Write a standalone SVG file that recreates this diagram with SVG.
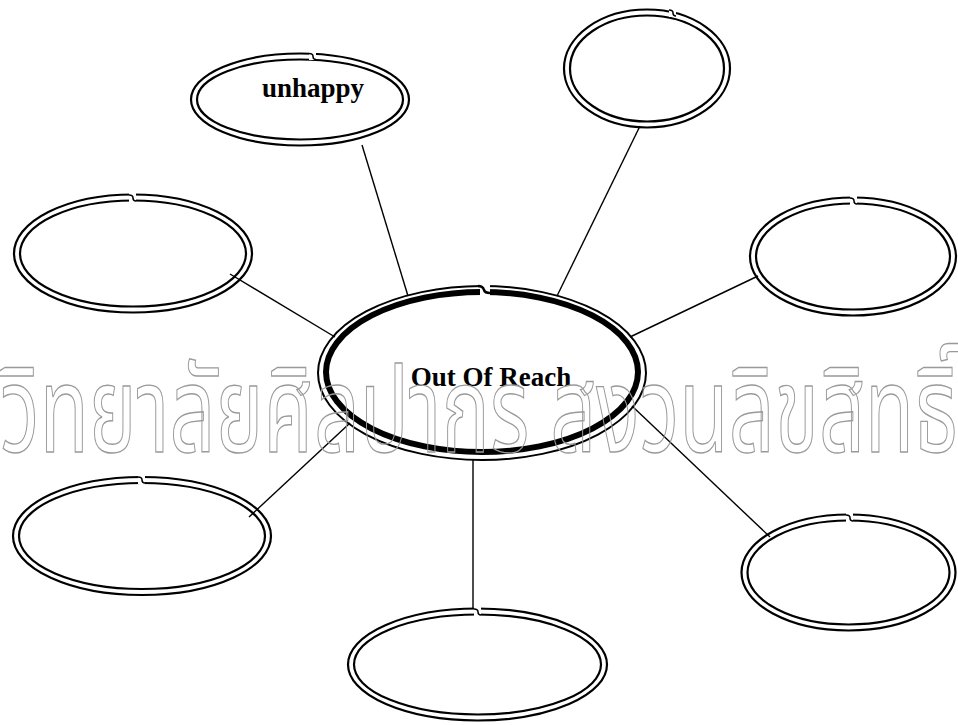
<svg xmlns="http://www.w3.org/2000/svg" width="958" height="725" viewBox="0 0 958 725">
<style>
.o{fill:#fff;stroke:#000;stroke-width:2.2}
.i{fill:none;stroke:#000;stroke-width:2.2}
.thin{fill:#fff;stroke:#000;stroke-width:2}
.thick{fill:none;stroke:#000;stroke-width:6}
.gap{fill:#fff;stroke:none}
.curl{fill:none;stroke:#000;stroke-width:1.5}
.lbl{font-family:"Liberation Serif","Times New Roman",serif;font-weight:bold;font-size:27px;fill:#000;text-anchor:middle}
.wm{font-family:"Noto Sans Thai","Noto Sans","DejaVu Sans",sans-serif;fill:none;stroke:#9a9a9a;stroke-width:1.4}
#connectors line{stroke:#000;stroke-width:1.4}
</style>
<rect width="958" height="725" fill="#fff"/>

<g id="n-unhappy">
<ellipse class="o" cx="300" cy="99.5" rx="109" ry="46"/>
<ellipse class="i" cx="300" cy="99.5" rx="103" ry="40"/>
<rect class="gap" x="309" y="50" width="7" height="10"/>
<path class="curl" d="M309 53.5 q4 0 4 3 q0 3 3 3"/>
<text class="lbl" x="313" y="97">unhappy</text>
</g>

<g id="n-topright">
<ellipse class="o" cx="647" cy="68.5" rx="83" ry="59"/>
<ellipse class="i" cx="647" cy="68.5" rx="77" ry="53"/>
<rect class="gap" x="669" y="7" width="7" height="10"/>
<path class="curl" d="M669 10 q4 0 4 3 q0 3 3 3"/>
</g>

<g id="n-left">
<ellipse class="o" cx="133" cy="253.5" rx="119" ry="59"/>
<ellipse class="i" cx="133" cy="253.5" rx="113" ry="53"/>
<rect class="gap" x="129" y="192" width="7" height="10"/>
<path class="curl" d="M129 195 q4 0 4 3 q0 3 3 3"/>
</g>

<g id="n-right">
<ellipse class="o" cx="853" cy="256.5" rx="103" ry="59"/>
<ellipse class="i" cx="853" cy="256.5" rx="97" ry="53"/>
<rect class="gap" x="850" y="195" width="7" height="10"/>
<path class="curl" d="M850 198 q4 0 4 3 q0 3 3 3"/>
</g>

<g id="n-bottomleft">
<ellipse class="o" cx="142" cy="536" rx="129" ry="59"/>
<ellipse class="i" cx="142" cy="536" rx="123" ry="53"/>
<rect class="gap" x="138" y="474" width="7" height="10"/>
<path class="curl" d="M138 477 q4 0 4 3 q0 3 3 3"/>
</g>

<g id="n-bottomright">
<ellipse class="o" cx="848.5" cy="572.5" rx="107" ry="58"/>
<ellipse class="i" cx="848.5" cy="572.5" rx="101" ry="52"/>
<rect class="gap" x="846" y="512" width="7" height="10"/>
<path class="curl" d="M846 515 q4 0 4 3 q0 3 3 3"/>
</g>

<g id="n-bottom">
<ellipse class="o" cx="477.5" cy="664.5" rx="129.5" ry="56"/>
<ellipse class="i" cx="477.5" cy="664.5" rx="123.5" ry="50"/>
<rect class="gap" x="474" y="606" width="7" height="10"/>
<path class="curl" d="M474 609 q4 0 4 3 q0 3 3 3"/>
</g>

<g id="n-center">
<ellipse class="thin" cx="482" cy="373" rx="164" ry="87"/>
<ellipse class="thick" cx="482" cy="372" rx="156" ry="80"/>
<rect class="gap" x="480" y="283" width="10" height="14"/>
<path class="curl" d="M478 286 q5 0 6 4 q1 3 6 3" style="stroke-width:2.5"/>
</g>

<g id="connectors">
<line x1="362" y1="145" x2="408" y2="296"/>
<line x1="640" y1="126" x2="557" y2="296"/>
<line x1="230" y1="274" x2="335" y2="337"/>
<line x1="758" y1="276" x2="630" y2="337"/>
<line x1="249" y1="517" x2="350" y2="423"/>
<line x1="770" y1="537" x2="632" y2="406"/>
<line x1="473" y1="460" x2="473" y2="608"/>
</g>

<text class="lbl" x="491" y="386">Out Of Reach</text>

<text class="wm" x="0" y="452" font-size="120" textLength="958" lengthAdjust="spacingAndGlyphs">วิทยาลัยศิลปากร สงวนลิขสิทธิ์</text>
</svg>
